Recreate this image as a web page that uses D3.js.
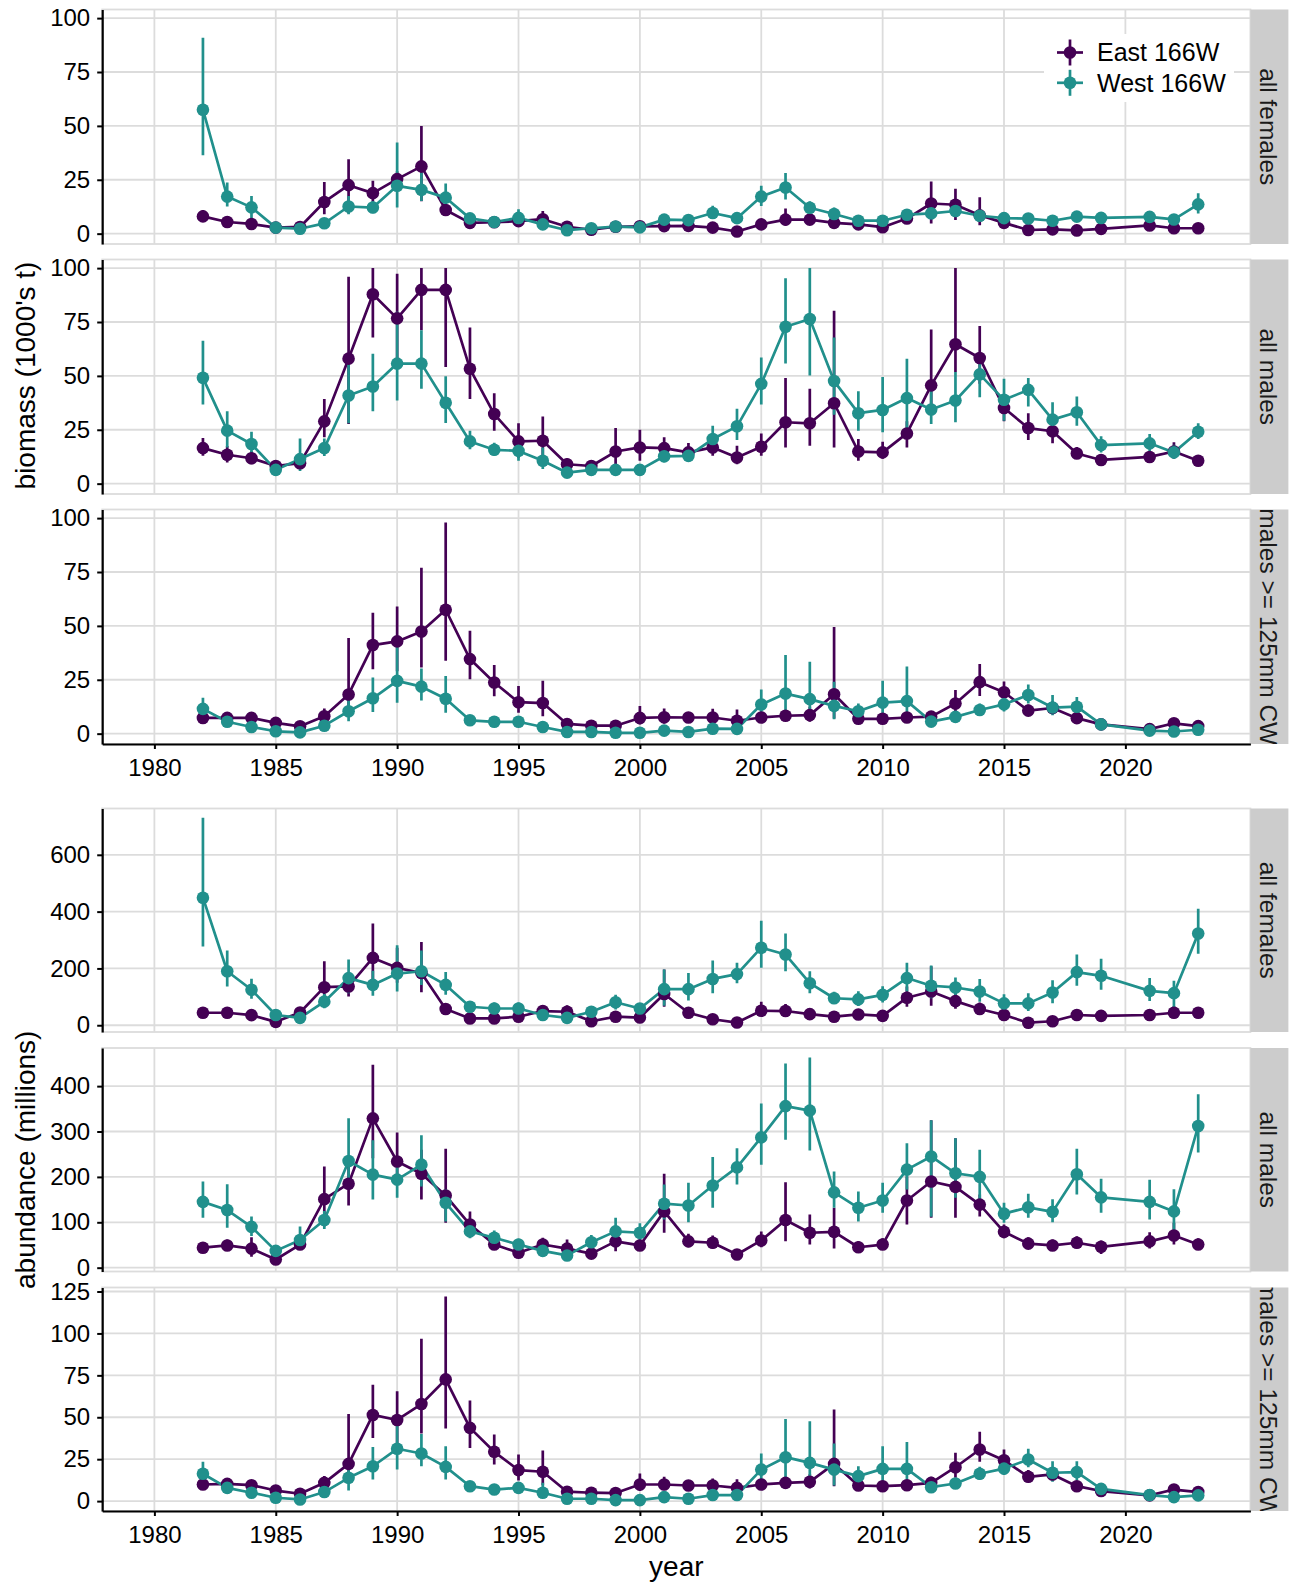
<!DOCTYPE html>
<html><head><meta charset="utf-8">
<script src="https://cdn.jsdelivr.net/npm/d3@7"></script>
<style>body{margin:0;background:#fff}</style>
</head><body>
<script>
// ---------------- DATA ----------------
const years = [1982,1983,1984,1985,1986,1987,1988,1989,1990,1991,1992,1993,1994,1995,1996,1997,1998,1999,2000,2001,2002,2003,2004,2005,2006,2007,2008,2009,2010,2011,2012,2013,2014,2015,2016,2017,2018,2019,2021,2022,2023];
const regions = ["East 166W","West 166W"];
const stripLabels = ["all females","all males","males >= 125mm CW"];
const xTicks = [1980,1985,1990,1995,2000,2005,2010,2015,2020];
const bioTicks = [0,25,50,75,100];
const abFemTicks = [0,200,400,600];
const abMaleTicks = [0,100,200,300,400];
const abLegalTicks = [0,25,50,75,100,125];

// biomass (1000's t) - all females
const bioFemE   = [8,5.4,4.5,2.8,3.1,14.7,22.5,18.8,25.3,31.2,11,5,5.3,5.8,6.7,3.2,1.8,3.2,3.4,3.5,3.6,2.8,1.0,4.3,6.5,6.5,5,4.3,3,7,14,13.4,8.5,5,1.7,2,1.5,2.2,3.8,2.5,2.5];
const bioFemELo = [6,4.3,3.5,2.1,2.3,9,9.5,13,21,15,8.5,4,4.3,4.5,3,2.4,1.3,2.5,2.6,2.7,2.6,2,0.6,3.2,3.8,4.8,3.5,3.2,2.2,5.5,4.7,6.3,3.9,3.6,1.2,1.4,1.1,1.6,2.8,1.8,1.8];
const bioFemEHi = [11,6.8,5.8,3.6,4.2,24,34.5,24.5,29,50,13.5,6.2,6.5,7.3,10.5,4.2,2.4,4,4.3,4.5,4.8,3.8,1.5,5.6,11.7,8.5,6.8,5.6,4,8.8,24.2,20.8,16.9,6.8,2.4,2.8,2.1,3,5,3.4,3.4];
const bioFemW   = [57.5,17.2,12.2,2.8,2.3,4.8,12.6,12.1,22.2,20.3,16.7,7.1,5.4,7.3,4.3,1.6,2.5,3.3,2.9,6.5,6.3,9.6,7.2,17.2,21.4,12,9.1,6,6,8.8,9.4,10.5,8.3,7.2,7,6,7.9,7.3,7.8,6.6,13.6];
const bioFemWLo = [36.4,12.6,6.7,2,1.6,3.6,9,9.5,12.1,15.2,11.3,5.5,4,3.6,3.1,1.1,1.8,2.4,2.1,4.8,4.6,6.9,5.3,12.8,15.9,9.3,6.3,4.5,4.5,6.8,7.2,8.2,6.3,5,5,4.5,6,5.6,6,5,9.4];
const bioFemWHi = [90.9,23.7,17.5,3.8,3.2,6.2,17.5,15,42.3,28.4,23.3,9,7,11.3,5.8,2.3,3.4,4.4,3.9,8.5,8.3,13,9.5,22.2,28.1,15,12.1,7.8,7.8,11,12,13.2,10.6,10,9.5,7.8,10,9.3,9.9,8.5,18.8];

// biomass - all males
const bioMaleE   = [16.5,13.4,11.8,8.2,9.5,28.9,58,87.9,76.7,89.9,89.9,53.3,32.3,19.6,19.9,9,8.2,14.9,16.8,16.5,14.5,16.8,12.1,17.1,28.5,28,37.3,14.9,14.5,23.3,45.6,64.7,58.3,35.1,25.8,24.3,14,11,12.4,14.9,10.6];
const bioMaleELo = [12.9,9.8,9,6.2,7,21.5,27.7,67.8,55.7,71.2,54.1,39.3,24.6,12,12.9,6.7,6.2,9,10.6,12,10.6,12.9,9,12.9,16.8,17.6,16.8,10.6,11.5,16.8,32.3,51.8,46.3,28.9,20.2,18.7,11.5,8.8,10,11.5,8.5];
const bioMaleEHi = [21.2,17.5,15,10.5,12.5,39.3,96,100,97.4,100,100,72.5,42,28,31.1,11.8,10.6,25.8,25,21.5,18.9,20.5,17.6,23.3,49,44,80.2,20.7,19.5,28.9,71.5,100,73.1,40.1,32.7,30,17,13.5,15.2,19.2,13];
const bioMaleW   = [49.1,24.6,18.4,6.4,11.4,16.5,40.9,45.1,55.7,55.7,37.5,19.6,15.7,15.2,10.6,5.1,6.4,6.4,6.4,12.7,12.9,20.7,26.6,46.3,72.8,76.4,47.6,32.7,34.2,39.7,34.4,38.6,50.7,38.9,43.5,29.7,33.1,17.9,18.7,14.5,24.1];
const bioMaleWLo = [36.7,16.8,12.1,4.8,5.9,12.8,28,33.6,38.6,44,28.1,16,13,10.6,6.8,3.9,4.9,4.9,5,9.8,10,15.2,20.2,36.7,55.7,50.2,32,24.6,23.8,23,27.7,28.5,40.1,29.2,35.8,23.3,26.9,14.5,15.2,11.5,20.7];
const bioMaleWHi = [66.3,33.6,24.1,8.5,21,21,58.8,60.3,79.8,71.2,49.8,24.6,19,22.2,16.8,6.6,8.3,8.3,8.2,16.3,16.5,26.9,34.7,58.5,95.3,100,67.8,42.9,49.5,58,43.2,51.8,59.1,48.7,49,37.8,40.4,22,23,18,28];

// biomass - males >= 125mm CW
const bioLegE   = [7.3,7.3,7.3,5,3.4,8.1,18.2,41.1,42.8,47.4,57.5,34.6,23.7,14.6,14.2,4.5,3.7,3.7,7.3,7.6,7.5,7.5,6,7.5,8.3,8.6,18.3,6.9,6.9,7.5,7.9,14,23.9,19.2,10.7,11.9,7.2,4.3,2.1,4.8,3.5];
const bioLegELo = [5.5,5.5,5.5,3.6,2.4,4.8,10.4,29.9,29,30.7,33.8,25.2,17.4,9.7,8.1,3.3,2.7,2.7,4.2,4.6,5.5,4.2,3.1,5.5,6,5.5,7,5,5,5.5,5.8,9.4,17.5,14.8,8.3,9.3,5.5,3.2,1.5,3.5,2.6];
const bioLegEHi = [9.5,9.5,9.5,6.7,4.7,11.7,44.4,56.1,59,77,98,47.8,31.9,22.1,24.5,6,5,5,12.8,11.7,10,11.5,11.2,10,11,12.5,49.5,9.3,9.3,10,10.5,20.3,32.3,24.2,13.5,15,9.3,5.6,2.9,6.4,4.6];
const bioLegW   = [11.5,5.5,3.1,1.1,0.6,3.7,10.4,16.4,24.5,21.8,16.2,6.2,5.5,5.5,3.1,0.8,0.8,0.4,0.4,1.4,0.8,2.3,2.2,13.5,18.6,16,12.9,10.4,14.4,15.1,5.6,7.8,11,13.6,17.9,12.1,12.5,4.3,1.4,1,1.8];
const bioLegWLo = [8.1,3.7,2.2,0.7,0.3,2.6,5.8,10.1,14.3,15.4,9.7,4.8,4.2,4.2,2.2,0.5,0.5,0.2,0.2,0.9,0.5,1.5,1.4,7,8.5,7.8,6.7,7.6,7,7,4,5.8,8.5,10.3,14,8.5,9,3.2,1,0.7,1.2];
const bioLegWHi = [16.7,8,4.3,1.6,1,5.2,15.9,26,40.8,30.2,26.8,8,7,7.2,4.3,1.2,1.2,0.7,0.7,2.1,1.2,3.4,3.3,20.5,36.5,33.4,24.1,14,24.5,31.1,7.6,10.3,14,17.5,22.8,17.9,17,5.6,2,1.5,2.6];

// abundance (millions) - all females
const abFemE   = [44,44,35.6,12,45,134,136.5,237,202,184,57,24,24,30,50,47.5,14,30,27,110,44,21,9.5,51,50,39,30,38,33,97,119,85,57,36,9,14,36,33,36,44,44];
const abFemELo = [36,36,27,8,33,83,101,148,150,116,45,18,18,23,36,30,10,22,20,65,33,15,6,35,32,29,22,28,24,65,69,58,38,27,5,10,27,25,27,25,34];
const abFemEHi = [54,54,46,18,60,225,178,358,273,293,72,31,32,39,68,70,19,40,36,196,58,29,14,83,75,52,40,50,44,136,208,120,80,47,12,19,47,43,47,68,56];
const abFemW   = [449,190,125,36,26,83,166,142,182,190,142,65,59,59,36,26,47.5,81,59,127,127,163,180,273,249,148,95,91,107,166,139,133,119,77,77,115,187,174,121,113,323];
const abFemWLo = [277,136,93,26,18,60,113,104,119,142,107,50,40,42,27,19,35,55,44,69,87,113,148,202,190,113,75,68,80,119,95,95,83,47,50,77,139,125,85,59,252];
const abFemWHi = [730,263,164,48,36,110,231,192,282,263,187,84,80,80,48,35,63,107,78,196,184,228,220,368,323,190,118,120,137,220,210,168,163,109,113,158,249,234,166,157,410];

// abundance - all males
const abMaleE   = [44,49,42,18,51,151,185,329,234,207,159,95,51,33,51,42,31,58,49,124,58,55,29,60,105,77,79,45,51,148,190,178,139,79,53,49,55,46,58,71,51];
const abMaleELo = [35,38,24,14,40,91,137,241,194,150,99,69,40,25,38,28,24,36,38,77,45,42,22,45,58,51,42,35,40,95,110,110,113,65,42,39,43,30,42,51,40];
const abMaleEHi = [55,62,67,24,65,223,230,447,298,260,262,124,65,43,66,62,40,80,62,207,75,71,38,80,188,117,132,58,65,201,325,285,161,95,67,62,69,60,78,99,65];
const abMaleW   = [145,127,90,37,61,105,235,205,194,227,143,80,66,51,37,27,56,80,77,141,137,181,221,287,356,346,166,132,148,216,245,208,200,119,133,123,206,155,145,124,312];
const abMaleWLo = [110,88,70,28,40,85,179,150,154,179,102,65,52,40,28,20,42,55,58,106,100,132,183,227,282,258,132,102,121,172,112,154,150,99,110,100,161,121,106,77,254];
const abMaleWHi = [190,184,113,47,91,125,329,281,245,292,173,98,82,64,47,36,72,110,98,183,187,244,263,362,450,463,212,168,187,274,325,285,260,143,163,151,262,196,194,173,382];

// abundance - males >= 125mm CW
const abLegE   = [9.9,10.3,9.5,6.3,4.4,10.9,22.2,51.4,48.4,57.9,72.6,43.7,29.4,18.5,17.5,5.6,5,4.8,9.9,9.9,9.3,9.3,7.9,9.9,10.9,11.5,22.2,9.3,8.9,9.5,10.9,20.2,30.8,24.4,14.5,15.9,8.9,6,3.4,6.9,5.4];
const abLegELo = [7.5,7.8,7,4.5,3,7,13.9,37.7,31.7,40.3,43.3,31.7,21.8,12.3,9.5,4,3.6,3.4,6,6.5,6.8,6,4.5,7.2,8,7.5,8.9,6.8,6.5,7,8,13.9,23.4,18.8,11.2,12.3,6.8,4.5,2.4,5,4];
const abLegEHi = [13,13.5,12.5,8.5,6.2,15,52,69.4,65.5,96.8,122,60,39.7,27.8,30.2,7.6,6.8,6.6,16.5,14.5,12.5,13.5,13,13,14.5,16,54.6,12.3,12,12.5,14.5,28.8,41.3,30.8,18.5,20.2,11.5,7.8,4.6,9.3,7.2];
const abLegW   = [16.3,7.9,5,2,1,5.4,13.9,20.8,31.2,28.4,20.4,8.9,6.9,7.9,5,1.4,1.4,0.6,0.6,2.4,1.4,3.6,3.6,18.8,26.2,22.8,18.8,14.9,19.2,19.2,8.3,10.5,16.3,19.4,24.8,16.9,17.3,7.3,3.6,2.4,3.4];
const abLegWLo = [10.9,5.5,3.5,1.3,0.6,3.8,6.3,12.9,18.8,20.8,12.9,6.8,5.2,5.8,2,0.9,0.9,0.3,0.3,1.5,0.9,2.4,2.4,10.9,12.9,11.9,9.3,10.9,9.9,10.9,5.5,8,12.8,15.5,20.2,11.5,12.3,5.5,2.6,1.7,2.4];
const abLegWHi = [23.4,11,7,3,1.6,7.5,23.4,32.3,50.6,40,32.7,11.5,9,10.5,11,2.1,2.1,1,1,3.6,2.1,5.2,5.2,28.4,49,47.6,34.3,20.8,32.7,35.3,12,13.5,20.5,24.8,31.3,23.8,23.8,9.5,5,3.4,4.7];

// ---------------- LAYOUT / STYLE ----------------
const colors = ["#440154","#21908C"];
const FONT = '"Liberation Sans", Arial, Helvetica, sans-serif';
const gridCol = "#dcdcdc";
const xL = 102.2, xR = 1250.4, stripW = 38;
const LW = 2.7, PR = 6.3;

const panels = [
  {top:9.5,   h:234.5, dom:[-4.8,104],   ticks:bioTicks,     strip:0, E:[bioFemE,bioFemELo,bioFemEHi],   W:[bioFemW,bioFemWLo,bioFemWHi],   xaxis:false},
  {top:259.5, h:234.5, dom:[-4.8,104],   ticks:bioTicks,     strip:1, E:[bioMaleE,bioMaleELo,bioMaleEHi], W:[bioMaleW,bioMaleWLo,bioMaleWHi], xaxis:false},
  {top:509.5, h:234.5, dom:[-4.8,104],   ticks:bioTicks,     strip:2, E:[bioLegE,bioLegELo,bioLegEHi],   W:[bioLegW,bioLegWLo,bioLegWHi],   xaxis:true},
  {top:808.5, h:223.5, dom:[-23.8,763],  ticks:abFemTicks,   strip:0, E:[abFemE,abFemELo,abFemEHi],      W:[abFemW,abFemWLo,abFemWHi],      xaxis:false},
  {top:1048,  h:223.5, dom:[-8.4,484],   ticks:abMaleTicks,  strip:1, E:[abMaleE,abMaleELo,abMaleEHi],   W:[abMaleW,abMaleWLo,abMaleWHi],   xaxis:false},
  {top:1287.5,h:223.5, dom:[-5.9,127.4], ticks:abLegalTicks, strip:2, E:[abLegE,abLegELo,abLegEHi],      W:[abLegW,abLegWLo,abLegWHi],      xaxis:true}
];

const svg = d3.select("body").append("svg").attr("width",1294).attr("height",1583)
  .style("font-family",FONT);
const defs = svg.append("defs");
const x = d3.scaleLinear().domain([1977.85, 2025.15]).range([xL, xR]);

panels.forEach((p,i)=>{
  const y = d3.scaleLinear().domain(p.dom).range([p.top+p.h, p.top]);
  const g = svg.append("g");
  g.append("rect").attr("x",xL).attr("y",p.top).attr("width",xR-xL).attr("height",p.h).attr("fill","#fff");
  g.append("g").selectAll("line").data(p.ticks).join("line")
    .attr("x1",xL).attr("x2",xR).attr("y1",d=>y(d)).attr("y2",d=>y(d))
    .attr("stroke",gridCol).attr("stroke-width",1.8);
  g.append("g").selectAll("line").data(xTicks).join("line")
    .attr("x1",d=>x(d)).attr("x2",d=>x(d)).attr("y1",p.top).attr("y2",p.top+p.h)
    .attr("stroke",gridCol).attr("stroke-width",1.8);
  g.append("rect").attr("x",xL).attr("y",p.top).attr("width",xR-xL).attr("height",p.h)
    .attr("fill","none").attr("stroke",gridCol).attr("stroke-width",1.8);

  defs.append("clipPath").attr("id","pc"+i).append("rect")
    .attr("x",xL).attr("y",p.top).attr("width",xR-xL).attr("height",p.h);
  const dg = g.append("g").attr("clip-path",`url(#pc${i})`);
  const series = [p.E, p.W];
  const line = d3.line().x((d,j)=>x(years[j])).y(d=>y(d));
  series.forEach((s,k)=>{
    dg.append("path").attr("d",line(s[0])).attr("fill","none")
      .attr("stroke",colors[k]).attr("stroke-width",LW).attr("stroke-linejoin","round");
  });
  series.forEach((s,k)=>{
    dg.append("g").selectAll("line").data(years).join("line")
      .attr("x1",d=>x(d)).attr("x2",d=>x(d))
      .attr("y1",(d,j)=>y(s[1][j])).attr("y2",(d,j)=>y(s[2][j]))
      .attr("stroke",colors[k]).attr("stroke-width",LW);
  });
  series.forEach((s,k)=>{
    dg.append("g").selectAll("circle").data(years).join("circle")
      .attr("cx",d=>x(d)).attr("cy",(d,j)=>y(s[0][j])).attr("r",PR)
      .attr("fill",colors[k]);
  });

  // strip
  defs.append("clipPath").attr("id","sc"+i).append("rect")
    .attr("x",xR).attr("y",p.top).attr("width",stripW).attr("height",p.h);
  g.append("rect").attr("x",xR).attr("y",p.top).attr("width",stripW).attr("height",p.h).attr("fill","#cccccc");
  g.append("g").attr("clip-path",`url(#sc${i})`).append("text")
    .attr("transform",`translate(${xR+stripW/2-9.5},${p.top+p.h/2}) rotate(90)`)
    .attr("text-anchor","middle").attr("font-size",24.5).attr("fill","#1a1a1a")
    .text(stripLabels[p.strip]);

  // y axis
  const ay = g.append("g").attr("transform",`translate(${xL},0)`)
    .call(d3.axisLeft(y).tickValues(p.ticks).tickSize(5).tickSizeOuter(0).tickPadding(7));
  ay.attr("font-size",24).attr("font-family",FONT);
  ay.select(".domain").attr("stroke","#000").attr("stroke-width",2.2);
  ay.selectAll(".tick line").attr("stroke","#000").attr("stroke-width",2);
  ay.selectAll(".tick text").attr("fill","#000");

  if (p.xaxis) {
    const axg = g.append("g").attr("transform",`translate(0,${p.top+p.h})`)
      .call(d3.axisBottom(x).tickValues(xTicks).tickFormat(d3.format("d")).tickSize(5).tickSizeOuter(0).tickPadding(10));
    axg.attr("font-size",24).attr("font-family",FONT);
    axg.select(".domain").attr("stroke","#000").attr("stroke-width",2.2);
    axg.selectAll(".tick line").attr("stroke","#000").attr("stroke-width",2);
    axg.selectAll(".tick text").attr("fill","#000");
  }
});

// legend (inside first panel)
const lg = svg.append("g");
lg.append("rect").attr("x",1044).attr("y",34).attr("width",190).attr("height",68).attr("fill","#fff");
regions.forEach((r,k)=>{
  const cy = 52.5 + k*30.3, cx = 1070;
  lg.append("line").attr("x1",cx-13).attr("x2",cx+13).attr("y1",cy).attr("y2",cy)
    .attr("stroke",colors[k]).attr("stroke-width",LW);
  lg.append("line").attr("x1",cx).attr("x2",cx).attr("y1",cy-13).attr("y2",cy+13)
    .attr("stroke",colors[k]).attr("stroke-width",LW);
  lg.append("circle").attr("cx",cx).attr("cy",cy).attr("r",PR).attr("fill",colors[k]);
  lg.append("text").attr("x",1097).attr("y",cy).attr("dy","0.35em")
    .attr("font-size",25).attr("fill","#000").text(r);
});

// axis titles
svg.append("text").attr("transform","translate(34.5,375.5) rotate(-90)")
  .attr("text-anchor","middle").attr("font-size",28).text("biomass (1000's t)");
svg.append("text").attr("transform","translate(34.5,1159.8) rotate(-90)")
  .attr("text-anchor","middle").attr("font-size",28).text("abundance (millions)");
svg.append("text").attr("x",(xL+xR)/2).attr("y",1576)
  .attr("text-anchor","middle").attr("font-size",28).text("year");
</script>
</body></html>
